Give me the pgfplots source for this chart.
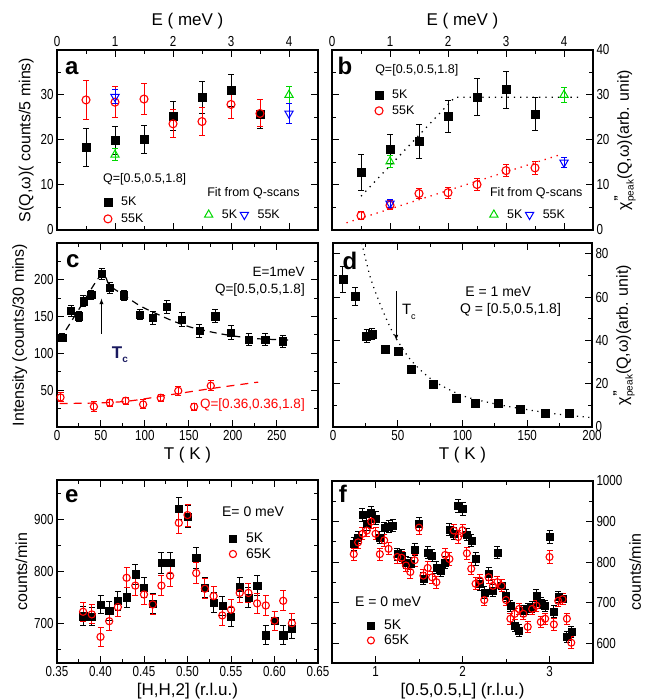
\documentclass[border=0pt]{standalone}
\usepackage{fontspec}
\setmainfont{Liberation Sans}
\newfontfamily\narrow{Liberation Sans}[FakeStretch=0.8]
\usepackage{pgfplots}
\pgfplotsset{compat=1.18}

\definecolor{cred}{RGB}{255,0,0}
\definecolor{cgreen}{RGB}{0,215,0}
\definecolor{cblue}{RGB}{0,0,255}
\definecolor{cnavy}{RGB}{25,25,95}
\newcommand{\fs}[1]{\fontsize{#1}{#1}\selectfont}
\tikzset{plab/.style={font=\fs{24}\bfseries},
  txt/.style={anchor=west, inner sep=0pt, font=\fs{#1}}}

\pgfplotsset{
  panel/.style={
    scale only axis, anchor=south west,
    /pgf/number format/assume math mode=true,
    /pgf/number format/1000 sep={},
    tick align=inside,
    major tick length=7pt, minor tick length=4pt,
    tick style={line width=1pt, black},
    axis line style={line width=1.3pt},
    tick label style={font=\narrow\fs{14.5}},
    xlabel style={font=\fs{17}},
    ylabel style={font=\fs{16}},
    legend style={draw=none, fill=none, font=\fs{12.5}, cells={anchor=west}},
    legend image code/.code={\path (-5pt,0pt) (11pt,0pt); \draw[##1] plot coordinates {(0pt,0pt)};},
  },
  sq/.style={only marks, mark=square*, mark size=#1, black},
  sq/.default=4pt,
  ci/.style={only marks, mark=o, mark size=#1, cred, mark options={line width=1.1pt}},
  ci/.default=4pt,
  tu/.style={only marks, mark=triangle, mark size=4.8pt, cgreen, mark options={line width=1pt}},
  td/.style={only marks, mark=triangle, mark size=4.8pt, cblue, mark options={line width=1pt, rotate=180}},
  eb/.style={/pgfplots/error bars/y dir=both, /pgfplots/error bars/y explicit,
     /pgfplots/error bars/error bar style={line width=1pt},
     /pgfplots/error bars/error mark options={rotate=90, line width=1pt, mark size=3pt}},
}

\begin{document}
\begin{tikzpicture}
\useasboundingbox (0,0) rectangle (654pt,700pt);

% ---------------- a ----------------
\begin{axis}[panel, at={(57pt,470pt)}, width=261pt, height=180pt,
  xmin=0, xmax=4.5, ymin=0, ymax=40,
  xtick={0,1,2,3,4}, minor x tick num=1,
  ytick={0,10,20,30,40}, yticklabels={0,10,20,30,}, minor y tick num=1,
  xticklabel pos=upper, xlabel={E ( meV )},
  ylabel={S(Q,ω)( counts/5 mins)},
  legend style={at={(0.163,0.208)}, anchor=north west, row sep=3pt}]
\addplot[sq, eb] table[y error index=2] {
0.5 18.4 4.2
1.0 19.9 3.1
1.5 20.1 3.2
2.0 25.3 3.2
2.5 29.5 3.6
3.0 31.0 3.5
3.5 25.7 3.2
};
\addlegendentry{5K}
\addplot[ci, eb] table[y error index=2] {
0.5 28.9 4.3
1.0 28.4 3.4
1.5 29.1 3.5
2.0 23.6 3.1
2.5 24.1 3.1
3.0 27.9 3.1
3.5 25.9 3.0
};
\addlegendentry{55K}
\addplot[forget plot, tu, eb] table[y error index=2] {
1.0 16.7 1.3
4.0 30.0 1.8
};
\addplot[forget plot, td, eb] table[y error index=2] {
1.0 29.6 1.6
4.0 25.9 2.3
};
\node[plab] at (rel axis cs:0.057,0.90) {a};
\node[txt=12.5] at (rel axis cs:0.176,0.283) {Q=[0.5,0.5,1.8]};
\node[txt=12.5] at (rel axis cs:0.575,0.206) {Fit from Q-scans};
\end{axis}
\begin{axis}[panel, at={(57pt,470pt)}, width=261pt, height=180pt,
  xmin=0, xmax=4.5, ymin=0, ymax=40, hide axis, legend columns=2,
  legend style={at={(0.549,0.136)}, anchor=north west}]
\addlegendimage{tu}\addlegendentry{5K}
\addlegendimage{td}\addlegendentry{55K}
\end{axis}

% ---------------- b ----------------
\begin{axis}[panel, at={(332pt,470pt)}, width=261pt, height=180pt,
  xmin=0, xmax=4.5, ymin=0, ymax=40,
  xtick={0,1,2,3,4}, minor x tick num=1,
  ytick={0,10,20,30,40}, minor y tick num=1,
  xticklabel pos=upper, xlabel={E ( meV )},
  yticklabel pos=right, ylabel shift=-2pt,
  ylabel={χ\rlap{\raisebox{0.75ex}{\fs{12}\bfseries "}}\raisebox{-0.55ex}{\fs{10}peak}(Q,ω)(arb. unit)},
  legend style={at={(0.148,0.803)}, anchor=north west, row sep=2pt}]
\addplot[forget plot, black, line width=1.3pt, dash pattern=on 1.3pt off 5pt] coordinates {(0.5,7.5) (2.12,29.5) (4.3,29.5)};
\addplot[forget plot, cred, line width=1.3pt, dash pattern=on 1.3pt off 5pt] coordinates {(0.25,1.6) (3.9,16.6)};
\addplot[sq, eb] table[y error index=2] {
0.5 12.8 4.0
1.0 18.0 3.2
1.5 19.7 3.8
2.0 25.2 3.6
2.5 29.5 4.1
3.0 31.2 4.1
3.5 25.8 3.6
};
\addlegendentry{5K}
\addplot[ci, eb] table[y error index=2] {
0.5 3.2 0.8
1.0 5.5 1.0
1.5 8.1 1.2
2.0 8.3 1.2
2.5 10.1 1.3
3.0 13.2 1.4
3.5 13.8 1.5
};
\addlegendentry{55K}
\addplot[forget plot, tu, eb] table[y error index=2] {
1.0 15.2 1.3
4.0 30.0 1.7
};
\addplot[forget plot, td, eb] table[y error index=2] {
1.0 5.9 0.8
4.0 15.0 1.1
};
\node[plab] at (rel axis cs:0.05,0.91) {b};
\node[txt=12.5] at (rel axis cs:0.165,0.889) {Q=[0.5,0.5,1.8]};
\node[txt=12.5] at (rel axis cs:0.605,0.206) {Fit from Q-scans};
\end{axis}
\begin{axis}[panel, at={(332pt,470pt)}, width=261pt, height=180pt,
  xmin=0, xmax=4.5, ymin=0, ymax=40, hide axis, legend columns=2,
  legend style={at={(0.588,0.136)}, anchor=north west}]
\addlegendimage{tu}\addlegendentry{5K}
\addlegendimage{td}\addlegendentry{55K}
\end{axis}

% ---------------- c ----------------
\begin{axis}[panel, at={(57pt,273pt)}, width=261pt, height=184pt,
  xmin=0, xmax=297, ymin=0, ymax=250,
  xtick={0,50,100,150,200,250}, minor x tick num=1,
  ytick={0,50,100,150,200,250}, yticklabels={,50,100,150,200,}, minor y tick num=1,
  xlabel={T ( K )}, ylabel={Intensity (counts/30 mins)}]
\addplot[black, line width=1.2pt, dash pattern=on 7pt off 5pt, smooth] coordinates {
(3,118) (25,160) (50.6,207) (60,192) (75,180) (94,165) (113,154) (132,144) (151,136) (170,130.5) (189,126) (208,122.5) (227,120) (265,118)};
\addplot[cred, line width=1.2pt, dash pattern=on 8pt off 6pt, smooth] coordinates {
(3,32) (40,32.5) (80,35) (130,44) (180,53) (229,61)};
\addplot[sq=3.6pt, eb] table[y error index=2] {
6 121.5 6
16 157.6 7
25 150.4 7
30 171 7
39 179.8 6
51 208 7
60 189 7
76 179 7
94 153 7
109 148.6 9
125 163 9
142 146 9
162 130.5 9
180 150.4 9
198 128.3 9
218 118.8 8
237 118.8 8
257 116.5 8
};
\addplot[ci=3.6pt, eb] table[y error index=2] {
4 40.2 6
42 27.6 7
60 33 5
78 35.7 5
98 30.7 6
118 39.7 5
138 49.2 6
156 27.5 5
175 56 7
};
\node[plab] at (rel axis cs:0.061,0.90) {c};
\node[anchor=east, inner sep=0pt, font=\fs{13.5}] at (rel axis cs:0.95,0.844) {E=1meV};
\node[anchor=east, inner sep=0pt, font=\fs{13.5}] at (rel axis cs:0.95,0.745) {Q=[0.5,0.5,1.8]};
\node[anchor=east, inner sep=0pt, font=\fs{13.5}, text=cred] at (rel axis cs:0.95,0.12) {Q=[0.36,0.36,1.8]};
\draw[-latex, line width=0.9pt] (axis cs:50.6,127) -- (axis cs:50.6,174.4);
\node[font=\fs{17}\bfseries, text=cnavy] at (rel axis cs:0.241,0.391) {T\raisebox{-0.45ex}{\fs{10}\bfseries c}};
\end{axis}

% ---------------- d ----------------
\begin{axis}[panel, at={(333pt,273pt)}, width=259pt, height=184pt,
  xmin=0, xmax=200, ymin=0, ymax=85,
  xtick={0,50,100,150,200}, minor x tick num=1,
  ytick={0,20,40,60,80}, minor y tick num=1,
  yticklabel pos=right, ylabel shift=-2pt,
  xlabel={T ( K )},
  ylabel={χ\rlap{\raisebox{0.75ex}{\fs{12}\bfseries "}}\raisebox{-0.55ex}{\fs{10}peak}(Q,ω)(arb. unit)}]
\addplot[black, line width=1.2pt, dash pattern=on 1.2pt off 4.5pt, smooth] coordinates {
(22.2,85) (28.7,69.4) (35.1,58.7) (41.6,49.4) (48,41.7) (60,31) (77,21.6) (100,14.5) (125,10.7) (145,8.5) (170,6.2) (200,4.3)};
\addplot[sq=4pt, eb] table[y error index=2] {
7.5 68.2 5.9
17 60.2 4.3
26 42 3
30 42.9 2.5
40 36 1.5
50.6 35.2 1.5
60.2 26.6 1
77.3 19.8 1
95.3 13.1 1
110 11.1 1
127.4 10.8 1
144.4 8 1
163.6 6.2 1
182.4 6.5 1
};
\node[plab] at (rel axis cs:0.065,0.90) {d};
\node[txt=14] at (rel axis cs:0.51,0.735) {E = 1 meV};
\node[txt=14] at (rel axis cs:0.49,0.636) {Q = [0.5,0.5,1.8]};
\draw[-latex, line width=0.9pt] (axis cs:48.8,62.6) -- (axis cs:48.8,40);
\node[font=\fs{15}] at (rel axis cs:0.293,0.625) {T\raisebox{-0.55ex}{\fs{9}c}};
\end{axis}

% ---------------- e ----------------
\begin{axis}[panel, at={(57pt,37pt)}, width=261pt, height=183pt,
  xmin=0.35, xmax=0.65, ymin=625, ymax=975,
  xtick={0.35,0.4,0.45,0.5,0.55,0.6,0.65}, minor x tick num=1,
  xticklabel style={/pgf/number format/.cd, fixed, fixed zerofill, precision=2},
  ytick={700,800,900}, minor ytick={650,750,850,950},
  xlabel={[H,H,2] (r.l.u.)}, ylabel={counts/min},
  legend style={at={(0.642,0.732)}, anchor=north west, font=\fs{14}}]
\addplot[sq=3.6pt, eb] table[y error index=2] {
0.38 714.5 18
0.39 714 18
0.40 737 18
0.41 725 18
0.42 744 18
0.43 751 19
0.44 795 19
0.45 769 19
0.46 738 19
0.47 817 20
0.48 817 20
0.49 920 21
0.50 905 21
0.51 826 20
0.52 769 19
0.53 740 19
0.54 734 19
0.55 713 19
0.56 770 19
0.57 750 19
0.58 773 19
0.59 678 18
0.60 706 18
0.61 678 18
0.62 690 18
};
\addlegendentry{5K}
\addplot[ci=3.6pt, eb] table[y error index=2] {
0.38 723 18
0.39 718 18
0.40 675 18
0.41 705 18
0.42 732 19
0.43 788 19
0.44 773 19
0.45 756 19
0.46 737 19
0.47 773 19
0.48 792 20
0.49 893 21
0.50 908 21
0.51 797 20
0.52 767 19
0.53 753 19
0.54 716 19
0.55 727 19
0.56 759 19
0.57 759 19
0.58 739 19
0.59 735 19
0.60 706 18
0.61 744 19
0.62 701 18
};
\addlegendentry{65K}
\node[plab] at (rel axis cs:0.057,0.91) {e};
\node[txt=14] at (rel axis cs:0.632,0.827) {E= 0 meV};
\end{axis}

% ---------------- f ----------------
\begin{axis}[panel, at={(332pt,37pt)}, width=261pt, height=182pt,
  xmin=0.5, xmax=3.5, ymin=552, ymax=1000,
  xtick={1,2,3}, minor xtick={1.5,2.5},
  ytick={600,700,800,900,1000}, minor ytick={650,750,850,950},
  yticklabel pos=right,
  xlabel={[0.5,0.5,L] (r.l.u.)}, ylabel={counts/min},
  legend style={at={(0.117,0.261)}, anchor=north west, font=\fs{14}}]
\addplot[sq=3.5pt, eb] table[y error index=2] {
0.75 845 15
0.80 860 15
0.85 916 16
0.90 895 16
0.95 922 16
1.00 908 16
1.05 860 15
1.10 884 15
1.15 887 15
1.20 890 15
1.25 820 15
1.30 816 15
1.35 800 15
1.40 796 15
1.45 832 15
1.50 894 16
1.55 759 15
1.60 824 15
1.65 817 15
1.70 787 15
1.75 779 15
1.80 800 15
1.85 881 15
1.90 870 15
1.95 939 16
2.00 931 16
2.05 869 15
2.10 853 15
2.15 808 15
2.20 746 15
2.25 726 15
2.30 771 15
2.35 730 15
2.40 824 15
2.45 743 15
2.50 718 15
2.55 693 14
2.60 644 14
2.65 632 14
2.70 680 14
2.75 685 14
2.80 690 14
2.85 718 14
2.90 700 14
2.95 693 14
3.00 863 16
3.05 679 14
3.10 714 14
3.15 710 14
3.20 616 14
3.25 629 14
};
\addlegendentry{5K}
\addplot[ci=3.5pt, eb] table[y error index=2] {
0.75 820 15
0.80 849 15
0.85 870 15
0.90 878 15
0.95 900 16
1.00 870 15
1.05 820 15
1.10 854 15
1.15 833 15
1.25 813 15
1.30 811 15
1.35 792 15
1.40 776 15
1.45 805 15
1.50 885 16
1.55 767 15
1.60 786 15
1.65 763 15
1.70 751 15
1.80 818 15
1.85 808 15
1.90 878 15
1.95 862 15
2.00 879 15
2.05 822 15
2.10 784 15
2.15 747 15
2.20 755 15
2.25 707 14
2.30 763 15
2.35 742 15
2.40 751 15
2.45 742 15
2.50 707 14
2.55 661 14
2.60 673 14
2.65 685 14
2.70 673 14
2.75 641 14
2.80 685 14
2.85 693 14
2.90 653 14
2.95 661 14
3.00 813 15
3.05 647 14
3.10 705 14
3.15 709 14
3.20 661 14
3.25 602 14
};
\addlegendentry{65K}
\node[plab] at (rel axis cs:0.042,0.93) {f};
\node[txt=14] at (rel axis cs:0.088,0.335) {E = 0 meV};
\end{axis}
\end{tikzpicture}
\end{document}
